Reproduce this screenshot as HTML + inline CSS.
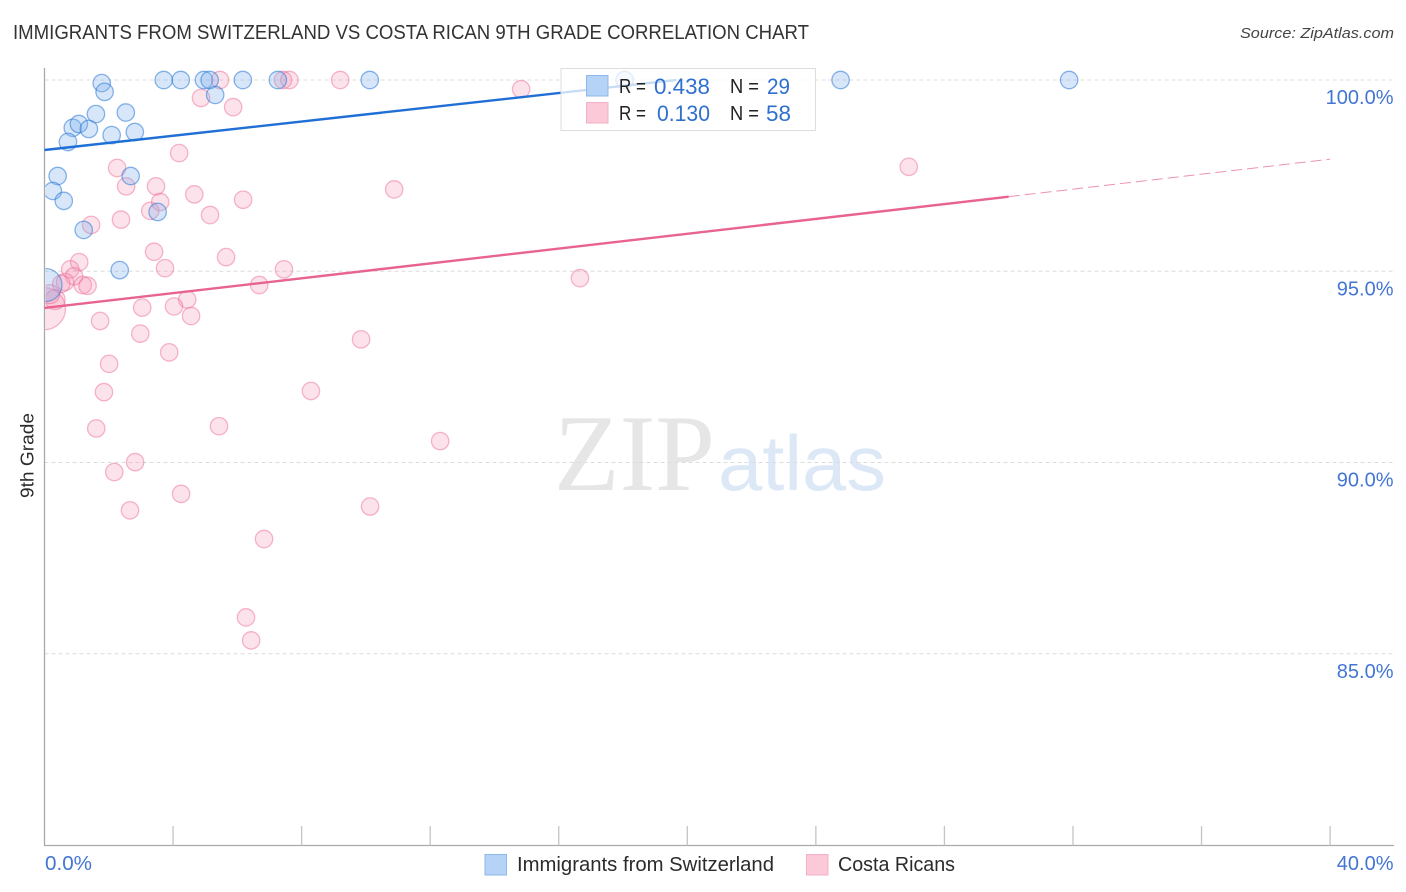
<!DOCTYPE html>
<html lang="en">
<head>
<meta charset="utf-8">
<title>Immigrants from Switzerland vs Costa Rican 9th Grade Correlation Chart</title>
<style>
html,body{margin:0;padding:0;background:#fff;width:1406px;height:892px;overflow:hidden}
svg{display:block}
text{font-family:"Liberation Sans",sans-serif}
</style>
</head>
<body>
<svg id="chart" width="1406" height="892" viewBox="0 0 1406 892" xmlns="http://www.w3.org/2000/svg">
<defs><clipPath id="plot-clip"><rect x="45.5" y="60" width="1350" height="785"/></clipPath></defs>
<text x="13" y="39" font-size="20" fill="#333" textLength="796" lengthAdjust="spacingAndGlyphs">IMMIGRANTS FROM SWITZERLAND VS COSTA RICAN 9TH GRADE CORRELATION CHART</text>
<text x="1394" y="38" font-size="15" font-style="italic" fill="#444" text-anchor="end" textLength="154" lengthAdjust="spacingAndGlyphs">Source: ZipAtlas.com</text>
<g>
<text x="554" y="490" font-size="109" fill="#e6e6e6" style="font-family:'Liberation Serif',serif" textLength="161" lengthAdjust="spacingAndGlyphs">ZIP</text>
<text x="718" y="490" font-size="78" fill="#dde8f7" style="font-family:'Liberation Sans',sans-serif" textLength="168" lengthAdjust="spacingAndGlyphs">atlas</text>
</g>
<g id="grid"></g>
<g id="axes"></g>
<g id="points" clip-path="url(#plot-clip)"></g>
<g id="trends"></g>
<g>
<rect x="561" y="68.5" width="254.5" height="62" fill="#fff" fill-opacity="0.76" stroke="#ddd" stroke-width="1"/>
<rect x="586.5" y="75.5" width="21.5" height="20.5" fill="#b5d2f7" stroke="#8fb8ea"/>
<rect x="586.5" y="102.5" width="21.5" height="20.5" fill="#fbc9d8" stroke="#f4b0c6"/>
<text x="619" y="93" font-size="20" fill="#222" textLength="27" lengthAdjust="spacingAndGlyphs">R =</text>
<text x="654" y="94" font-size="22" fill="#2f6fce" textLength="56" lengthAdjust="spacingAndGlyphs">0.438</text>
<text x="730" y="93" font-size="20" fill="#222" textLength="29" lengthAdjust="spacingAndGlyphs">N =</text>
<text x="767" y="94" font-size="22" fill="#2f6fce" textLength="23" lengthAdjust="spacingAndGlyphs">29</text>
<text x="619" y="120" font-size="20" fill="#222" textLength="27" lengthAdjust="spacingAndGlyphs">R =</text>
<text x="657" y="121" font-size="22" fill="#2f6fce" textLength="53" lengthAdjust="spacingAndGlyphs">0.130</text>
<text x="730" y="120" font-size="20" fill="#222" textLength="29" lengthAdjust="spacingAndGlyphs">N =</text>
<text x="766" y="121" font-size="22" fill="#2f6fce" textLength="25" lengthAdjust="spacingAndGlyphs">58</text>
</g>
<text transform="translate(33.5,455.5) rotate(-90)" font-size="18" fill="#2b2b2b" text-anchor="middle" textLength="85" lengthAdjust="spacingAndGlyphs">9th Grade</text>
<g>
<rect x="485" y="854.5" width="21.5" height="20.5" fill="#b5d2f7" stroke="#8fb8ea"/>
<text x="517" y="871" font-size="20" fill="#2b2b2b" textLength="257" lengthAdjust="spacingAndGlyphs">Immigrants from Switzerland</text>
<rect x="806.5" y="854.5" width="21.5" height="20.5" fill="#fbc9d8" stroke="#f4b0c6"/>
<text x="838" y="871" font-size="20" fill="#2b2b2b" textLength="117" lengthAdjust="spacingAndGlyphs">Costa Ricans</text>
</g>
</svg>
<script>
// Chart data (x = % immigrants, y = % 9th grade)
const yTickValues = [100, 95, 90, 85];
const yTickLabels = ['100.0%', '95.0%', '90.0%', '85.0%'];
const xTickValues = [0, 4, 8, 12, 16, 20, 24, 28, 32, 36, 40];
const xEndLabels = ['0.0%', '40.0%'];

const blueX = [1.78,1.87,3.71,4.24,4.96,5.14,5.31,6.17,7.26,10.12,18.05,24.77,31.88,1.60,2.53,0.88,1.07,1.38,2.09,2.81,0.73,0.41,2.68,0.26,0.60,3.52,1.22,2.34,0.03];
const blueY = [99.92,99.69,100,100,100,100,99.61,100,100,100,100,100,100,99.11,99.15,98.75,98.85,98.72,98.56,98.64,98.38,97.49,97.49,97.10,96.84,96.55,96.08,95.03,94.64];
const blueR = [8.7,8.7,8.7,8.7,8.7,8.7,8.7,8.7,8.7,8.7,8.7,8.7,8.7,8.7,8.7,8.7,8.7,8.7,8.7,8.7,8.7,8.7,8.7,8.7,8.7,8.7,8.7,8.7,16.5];

const pinkX = [5.46,7.42,7.62,9.20,14.83,4.87,5.87,4.19,2.26,2.54,3.47,4.66,3.60,3.29,2.38,1.45,5.15,6.18,10.88,26.89,3.41,5.65,1.08,3.75,0.80,0.92,0.64,0.52,7.45,6.68,1.19,1.34,4.44,4.03,3.04,4.56,1.73,2.98,3.88,9.85,2.01,1.85,8.29,5.43,1.61,12.31,2.82,2.17,4.25,10.13,2.66,6.83,6.27,6.43,16.66,0.33,0.00,0.17];
const pinkY = [100,100,100,100,99.76,99.53,99.29,98.09,97.70,97.22,97.22,97.01,96.81,96.58,96.35,96.21,96.47,96.87,97.14,97.73,95.51,95.37,95.24,95.08,95.05,94.87,94.72,94.67,95.05,94.64,94.64,94.62,94.26,94.08,94.05,93.83,93.70,93.37,92.88,93.22,92.58,91.84,91.87,90.95,90.89,90.56,90.01,89.75,89.18,88.85,88.75,88.00,85.95,85.35,94.82,94.26,94.02,94.40];
const pinkR = [8.7,8.7,8.7,8.7,8.7,8.7,8.7,8.7,8.7,8.7,8.7,8.7,8.7,8.7,8.7,8.7,8.7,8.7,8.7,8.7,8.7,8.7,8.7,8.7,8.7,8.7,8.7,8.7,8.7,8.7,8.7,8.7,8.7,8.7,8.7,8.7,8.7,8.7,8.7,8.7,8.7,8.7,8.7,8.7,8.7,8.7,8.7,8.7,8.7,8.7,8.7,8.7,8.7,8.7,8.7,10,21,9.5];

const blueTrendX = [0, 19.66];
const blueTrendY = [98.17, 100];
const pinkTrendX = [0, 30];
const pinkTrendY = [94.04, 96.95];
const pinkDashX = [30, 40];
const pinkDashY = [96.95, 97.93];

// Axis functions
const xScale = v => 44.5 + v * 32.14;
const yScale = v => 80 + (100 - v) * 38.25;

const NS = 'http://www.w3.org/2000/svg';
function make(tag, parent, attrs, text) {
  const el = document.createElementNS(NS, tag);
  Object.keys(attrs).forEach(k => el.setAttribute(k, attrs[k]));
  if (text !== undefined) el.textContent = text;
  parent.appendChild(el);
  return el;
}
const grid = document.getElementById('grid');
const axes = document.getElementById('axes');
const points = document.getElementById('points');
const trends = document.getElementById('trends');

yTickValues.forEach((v, i) => {
  const line = make('line', grid, {x1: 44.5, x2: 1394, y1: yScale(v), y2: yScale(v), stroke: '#dcdcdc', 'stroke-width': 1, 'stroke-dasharray': '4 3'});
  
  
  const label = make('text', axes, {x: 1393.5, y: yScale(v) + 24, 'font-size': 20, fill: '#4376d2', 'text-anchor': 'end'}, yTickLabels[i]);
  
  
});

const yAxis = make('line', axes, {x1: 44.5, x2: 44.5, y1: 68, y2: 845.5, stroke: '#aaa', 'stroke-width': 1.3});


const xAxis = make('line', axes, {x1: 44, x2: 1394, y1: 845.5, y2: 845.5, stroke: '#aaa', 'stroke-width': 1.3});



xTickValues.slice(1).forEach(v => {
  const tick = make('line', axes, {x1: xScale(v), x2: xScale(v), y1: 826, y2: 845.5, stroke: '#c4c4c4', 'stroke-width': 1.3});
  
  
});

const xLabelStart = make('text', axes, {x: 45, y: 870, 'font-size': 20, fill: '#4376d2', textLength: 47, lengthAdjust: 'spacingAndGlyphs'}, xEndLabels[0]);


const xLabelEnd = make('text', axes, {x: 1393.5, y: 870, 'font-size': 20, fill: '#4376d2', 'text-anchor': 'end'}, xEndLabels[1]);



pinkX.forEach((v, i) => {
  const c = make('circle', points, {cx: xScale(v), cy: yScale(pinkY[i]), r: pinkR[i], fill: '#f48fb1', 'fill-opacity': 0.26, stroke: '#ec6a95', 'stroke-opacity': 0.48, 'stroke-width': 1.3});
  
  
});
blueX.forEach((v, i) => {
  const c = make('circle', points, {cx: xScale(v), cy: yScale(blueY[i]), r: blueR[i], fill: '#7fb0ec', 'fill-opacity': 0.31, stroke: '#2a78d6', 'stroke-opacity': 0.55, 'stroke-width': 1.3});
  
  
});

const blueLine = make('line', trends, {x1: xScale(blueTrendX[0]), y1: yScale(blueTrendY[0]), x2: xScale(blueTrendX[1]), y2: yScale(blueTrendY[1]), stroke: '#1f6fd6', 'stroke-width': 2.4});


const pinkLine = make('line', trends, {x1: xScale(pinkTrendX[0]), y1: yScale(pinkTrendY[0]), x2: xScale(pinkTrendX[1]), y2: yScale(pinkTrendY[1]), stroke: '#e8648f', 'stroke-width': 2.4});


const pinkDash = make('line', trends, {x1: xScale(pinkDashX[0]), y1: yScale(pinkDashY[0]), x2: xScale(pinkDashX[1]), y2: yScale(pinkDashY[1]), stroke: '#e8779c', 'stroke-opacity': 0.8, 'stroke-width': 1, 'stroke-dasharray': '11 5'});


</script>
</body>
</html>
